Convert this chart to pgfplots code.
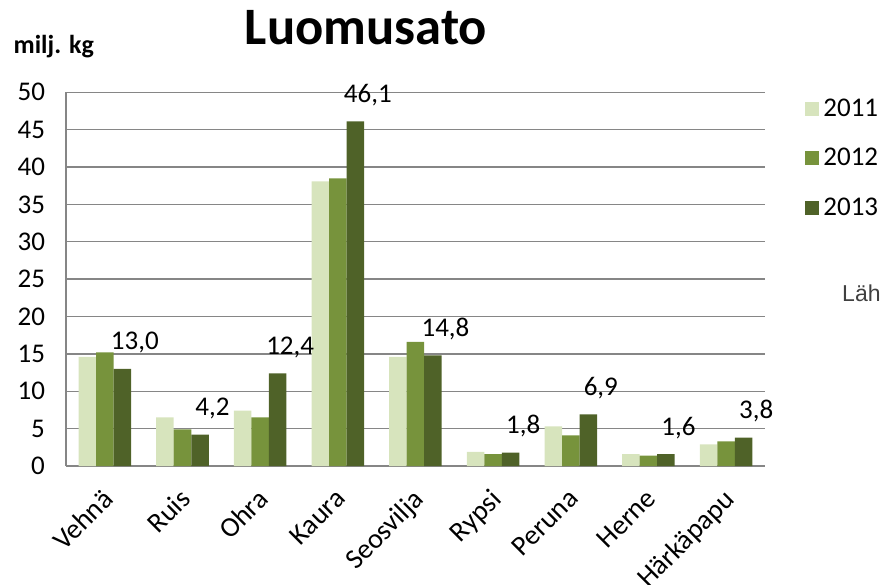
\documentclass[border=0pt]{standalone}
\usepackage{pgfplots}
\pgfplotsset{compat=1.18}
\usepackage{fontspec}
\setmainfont{Carlito}
\newfontfamily\arialfont{Liberation Sans}
\definecolor{c11}{RGB}{215,228,189}
\definecolor{c12}{RGB}{119,147,60}
\definecolor{c13}{RGB}{79,98,40}
\definecolor{gridc}{RGB}{134,134,134}
\begin{document}
\begin{tikzpicture}
\path[use as bounding box] (0pt,0pt) rectangle (440.5pt,292pt);
\begin{axis}[
  at={(33pt,59pt)}, anchor=south west,
  scale only axis, width=349.5pt, height=186.85pt,
  ybar=0pt, bar width=8.75pt,
  xmin=-0.5, xmax=8.5, ymin=0, ymax=50,
  ytick={0,5,...,50},
  xtick={0,...,8},
  xticklabels={Vehnä,Ruis,Ohra,Kaura,Seosvilja,Rypsi,Peruna,Herne,Härkäpapu},
  axis x line*=bottom, axis y line*=left,
  axis line style={gridc, line width=0.7pt, -},
  ymajorgrids, grid style={gridc, line width=0.7pt},
  tick align=outside,
  major tick length=2.5pt,
  ytick style={draw=none},
  xtick style={draw=none},
  /pgf/number format/assume math mode=true,
  ticklabel style={font=\fontsize{13.5}{16}\selectfont},
  yticklabel style={xshift=-4.5pt},
  xticklabel style={xshift=-2pt, yshift=-8pt, rotate=45, anchor=north east, inner sep=0pt, font=\fontsize{14}{16}\selectfont},
  legend cell align=left,
  legend style={draw=none, fill=none, at={(1.0572,1)}, anchor=north west, yshift=-1pt,
    font=\fontsize{13.5}{16}\selectfont, row sep=10.5pt, inner sep=0pt},
  legend image code/.code={\fill[#1] (0pt,-3.5pt) rectangle (7pt,3.5pt);},
]
\addplot[fill=c11, draw=none] coordinates {(0,14.6) (1,6.5) (2,7.4) (3,38.1) (4,14.6) (5,1.9) (6,5.3) (7,1.6) (8,2.9)};
\addplot[fill=c12, draw=none] coordinates {(0,15.2) (1,4.9) (2,6.5) (3,38.5) (4,16.6) (5,1.6) (6,4.1) (7,1.4) (8,3.3)};
\addplot[fill=c13, draw=none, point meta=explicit symbolic, nodes near coords,
  nodes near coords style={font=\fontsize{13.5}{16}\selectfont, text=black, anchor=base, xshift=6.25pt, yshift=9.5pt}]
  coordinates {(0,13.0) [13,0] (1,4.2) [4,2] (2,12.4) [12,4] (3,46.1) [46,1] (4,14.8) [14,8] (5,1.8) [1,8] (6,6.9) [6,9] (7,1.6) [1,6] (8,3.8) [3,8]};
\legend{2011,2012,2013}
\end{axis}
\node[anchor=base, font=\fontsize{26.3}{30}\bfseries\selectfont] at (183pt,269.5pt) {Luomusato};
\node[anchor=base west, inner sep=0pt, font=\fontsize{13}{15}\bfseries\selectfont] at (6.65pt,265.35pt) {milj. kg};
\node[anchor=base east, inner sep=0pt, font=\arialfont\fontsize{11.5}{13}\selectfont, text=black!75] at (440.5pt,141.15pt) {Läh};
\end{tikzpicture}
\end{document}
